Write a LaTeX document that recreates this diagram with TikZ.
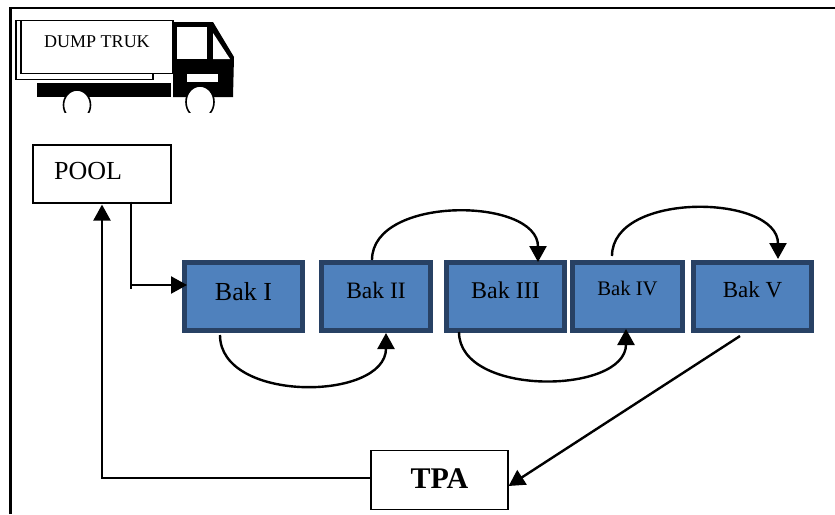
\documentclass[tikz,border=0pt]{standalone}
\usepackage{fontspec}
\setmainfont{Liberation Serif}
\usetikzlibrary{arrows.meta}
\definecolor{bakfill}{RGB}{79,129,189}
\definecolor{bakline}{RGB}{40,65,100}
\tikzset{
  x=1pt, y=-1pt,
  flow/.style={
    line width=2.4pt,
    >={Triangle[length=16pt,width=17pt]},
  },
  bak/.style={
    draw=bakline,
    fill=bakfill,
    line width=5pt,
    inner sep=0pt,
    minimum height=68pt,
  },
  plainbox/.style={
    draw,
    line width=1.2pt,
    inner sep=0pt,
  },
}

\begin{document}
\begin{tikzpicture}
\useasboundingbox (0,0) rectangle (835,514);
% frame
\draw [line width=2.5pt] (10.5,514) -- (10.5,8) -- (835,8);
% truck
\fill (37,83) rectangle (171,97);
\fill (173,22) -- (213,22) -- (234,57) -- (233,97) -- (173,97) -- cycle;
\fill [white] (177,27) rectangle (207,59);
\fill [white] (213,33) -- (230,59) -- (213,59) -- cycle;
\fill [white] (187,74) rectangle (218,82);
\begin{scope}
\clip (50,80) rectangle (230,112);
\draw [line width=1.6pt,fill=white] (77,105) ellipse (13.5 and 15);
\draw [line width=1.6pt,fill=white] (200,102) ellipse (14 and 16);
\end{scope}
\node (back) [draw,line width=1.2pt,fill=white,minimum width=137pt,minimum height=59pt] at (84.5,50) {};
\node (truk) [draw,line width=1.5pt,fill=white,inner sep=0pt,minimum width=152pt,minimum height=53pt,text depth=10pt,font=\fontsize{18}{20}\selectfont] at (97,47) {DUMP TRUK};
% boxes
\node (pool) [plainbox,minimum width=138pt,minimum height=58pt,text depth=6pt,font=\fontsize{26}{28}\selectfont] at (102,174) {\hspace{-28pt}POOL};
\node (tpa) [plainbox,minimum width=137pt,minimum height=59pt,text depth=2pt,font=\bfseries\fontsize{30}{32}\selectfont] at (439.5,480) {TPA};
\node (bak1) [bak,minimum width=118pt,text depth=11pt,font=\fontsize{26}{28}\selectfont] at (243.5,296.5) {Bak I};
\node (bak2) [bak,minimum width=109pt,text depth=13pt,font=\fontsize{23.5}{26}\selectfont] at (376,296.5) {Bak II};
\node (bak3) [bak,minimum width=118pt,text depth=13pt,font=\fontsize{24}{26}\selectfont] at (505.5,296.5) {Bak III};
\node (bak4) [bak,minimum width=110pt,text depth=17pt,font=\fontsize{20.7}{23}\selectfont] at (627.5,296.5) {Bak IV};
\node (bak5) [bak,minimum width=118pt,text depth=13pt,font=\fontsize{23}{26}\selectfont] at (752.5,296.5) {Bak V};
% flows
\begin{scope}[flow]
\draw ([xshift=29pt,yshift=2pt]pool.south) -- ++(0,87);
\draw [->] ([xshift=29pt]pool.south) |- ([xshift=5pt,yshift=11.5pt]bak1.west);
\draw [->] ([xshift=-23.5pt,yshift=-2pt]bak1.south) to [out=down, in=down, looseness=1.05] ([xshift=10pt]bak2.south);
\draw [->] ([xshift=-4pt]bak2.north) to [out=up, in=up, looseness=1.0] ([xshift=32.5pt,yshift=-2pt]bak3.north);
\draw [->] ([xshift=-46.5pt,yshift=1pt]bak3.south) to [out=down, in=down, looseness=1.0] ([xshift=-1.5pt,yshift=4pt]bak4.south);
\draw [->] ([xshift=-15.5pt,yshift=4pt]bak4.north) to [out=up, in=up, looseness=1.0] ([xshift=25.5pt,yshift=1pt]bak5.north);
\draw [->] ([xshift=-12.5pt,yshift=-3pt]bak5.south) -- ([yshift=-6pt]tpa.east);
\draw [->] ([yshift=2pt]tpa.west) -| ([yshift=-1pt]pool.south);
\end{scope}
\end{tikzpicture}
\end{document}
